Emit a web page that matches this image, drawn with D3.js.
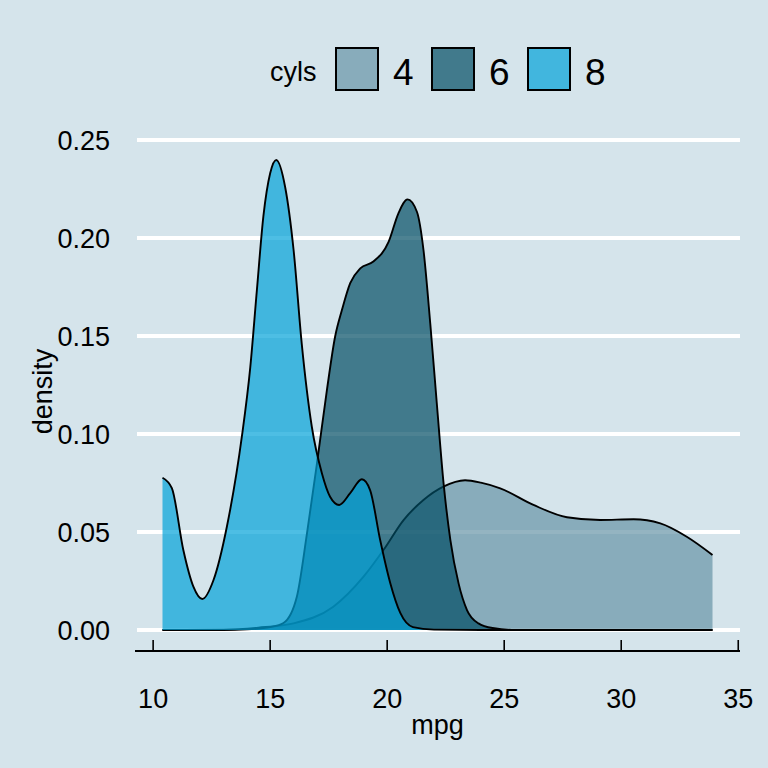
<!DOCTYPE html>
<html>
<head>
<meta charset="utf-8">
<script src="https://cdn.jsdelivr.net/npm/d3@7"></script>
<style>
  html, body { margin: 0; padding: 0; background: #d5e4eb; }
  svg { display: block; font-family: "Liberation Sans", Arial, sans-serif; }
</style>
</head>
<body>
<svg id="chart" width="768" height="768"></svg>
<script>
// ---- data ----
const cyls = ["4", "6", "8"];
const colors = ["#6794a7", "#014d64", "#01a2d9"];

const mpg4 = [10.4, 13, 14.5, 16.0, 17.7, 18.99, 19.84, 20.7, 21.55, 22.4, 23.33, 24.0, 24.83, 26.25, 27.68, 29.1, 30.53, 31.67, 32.8, 33.9];
const dens4 = [0, 0.0002, 0.0012, 0.0034, 0.0119, 0.0272, 0.0408, 0.0561, 0.0663, 0.0731, 0.0764, 0.0752, 0.0723, 0.0638, 0.0575, 0.0561, 0.0565, 0.0544, 0.0476, 0.0383];

const mpg6 = [10.4, 13, 14, 15, 15.57, 16.14, 16.57, 17.0, 17.42, 17.78, 18.06, 18.42, 18.85, 19.41, 20.06, 20.48, 20.87, 21.27, 21.55, 21.84, 22.12, 22.41, 22.7, 23.05, 23.41, 23.9, 24.5, 25.5, 28, 33.9];
const dens6 = [0, 0, 0.0003, 0.0015, 0.0036, 0.017, 0.049, 0.085, 0.122, 0.150, 0.163, 0.177, 0.1845, 0.188, 0.198, 0.2126, 0.2197, 0.2134, 0.194, 0.1565, 0.1157, 0.0748, 0.0459, 0.0238, 0.0102, 0.0034, 0.001, 0, 0, 0];

const mpg8 = [10.4, 10.8, 11.29, 11.72, 12.1, 12.58, 13.15, 13.79, 14.15, 14.43, 14.71, 15.0, 15.26, 15.64, 16.0, 16.35, 16.78, 17.21, 17.56, 17.95, 18.42, 18.92, 19.27, 19.7, 20.13, 20.56, 21.1, 22, 24, 28, 33.9];
const dens8 = [0.0777, 0.0724, 0.0408, 0.0221, 0.0158, 0.0255, 0.0527, 0.0986, 0.134, 0.173, 0.211, 0.233, 0.2398, 0.226, 0.194, 0.146, 0.1037, 0.080, 0.068, 0.0638, 0.0698, 0.0769, 0.0714, 0.0459, 0.024, 0.0087, 0.0015, 0.0002, 0, 0, 0];

const xTicks = [10, 15, 20, 25, 30, 35];
const yTicks = [0, 0.05, 0.10, 0.15, 0.20, 0.25];
const xTitle = "mpg";
const yTitle = "density";
const legendTitle = "cyls";

// ---- build ----
const series = [
  {key: cyls[0], color: colors[0], pts: mpg4.map((m, i) => [m, dens4[i]])},
  {key: cyls[1], color: colors[1], pts: mpg6.map((m, i) => [m, dens6[i]])},
  {key: cyls[2], color: colors[2], pts: mpg8.map((m, i) => [m, dens8[i]])}
];

const svg = d3.select("#chart");
const W = 768, H = 768;
svg.append("rect").attr("width", W).attr("height", H).attr("fill", "#d5e4eb");

const panel = {left: 135, right: 740, top: 136, bottom: 651};

const xmin = 10.4, xmax = 33.9;
const xpad = (xmax - xmin) * 0.05;
const x = d3.scaleLinear().domain([xmin - xpad, xmax + xpad]).range([panel.left, panel.right]);
const y = d3.scaleLinear().domain([0, 0.25]).range([630, 140]);

// gridlines
svg.append("g").selectAll("line").data(yTicks).join("line")
  .attr("x1", panel.left + 2).attr("x2", panel.right)
  .attr("y1", d => y(d)).attr("y2", d => y(d))
  .attr("stroke", "#ffffff").attr("stroke-width", 4);

// y tick labels
svg.append("g").selectAll("text").data(yTicks).join("text")
  .attr("x", 110).attr("y", d => y(d) + 10)
  .attr("text-anchor", "end").attr("font-size", 27).attr("fill", "#000")
  .text(d => d3.format(".2f")(d));

// densities
const area = d3.area().curve(d3.curveMonotoneX)
  .x(d => x(d[0])).y0(y(0)).y1(d => y(d[1]));
const line = d3.line().curve(d3.curveMonotoneX)
  .x(d => x(d[0])).y(d => y(d[1]));

series.forEach(s => {
  const g = svg.append("g");
  g.append("path").datum(s.pts).attr("d", area)
    .attr("fill", s.color).attr("fill-opacity", 0.7);
  g.append("path").datum(s.pts).attr("d", line)
    .attr("fill", "none").attr("stroke", "#000").attr("stroke-width", 1.9);
});

// x axis
const xAxis = svg.append("g");
xAxis.append("line").attr("x1", panel.left).attr("x2", panel.right)
  .attr("y1", panel.bottom).attr("y2", panel.bottom)
  .attr("stroke", "#000").attr("stroke-width", 2);
xAxis.selectAll("line.tick").data(xTicks).join("line").attr("class", "tick")
  .attr("x1", d => x(d)).attr("x2", d => x(d))
  .attr("y1", panel.bottom).attr("y2", panel.bottom - 11)
  .attr("stroke", "#000").attr("stroke-width", 1.6);
xAxis.selectAll("text").data(xTicks).join("text")
  .attr("x", d => x(d)).attr("y", 708)
  .attr("text-anchor", "middle").attr("font-size", 27).attr("fill", "#000")
  .text(d => d);

// axis titles
svg.append("text").attr("x", (panel.left + panel.right) / 2).attr("y", 734)
  .attr("text-anchor", "middle").attr("font-size", 27).text(xTitle);
svg.append("text")
  .attr("transform", `translate(52, ${(panel.top + panel.bottom) / 2 - 2}) rotate(-90)`)
  .attr("text-anchor", "middle").attr("font-size", 27).text(yTitle);

// legend
const leg = svg.append("g");
leg.append("text").attr("x", 270).attr("y", 81).attr("font-size", 27).text(legendTitle);
const keyX = [336, 432, 528];
series.forEach((s, i) => {
  leg.append("rect").attr("x", keyX[i]).attr("y", 48).attr("width", 42).attr("height", 42)
    .attr("fill", "#d5e4eb");
  leg.append("rect").attr("x", keyX[i]).attr("y", 48).attr("width", 42).attr("height", 42)
    .attr("fill", s.color).attr("fill-opacity", 0.7)
    .attr("stroke", "#000").attr("stroke-width", 2);
  leg.append("text").attr("x", keyX[i] + 57).attr("y", 85).attr("font-size", 37).text(s.key);
});
</script>
</body>
</html>
